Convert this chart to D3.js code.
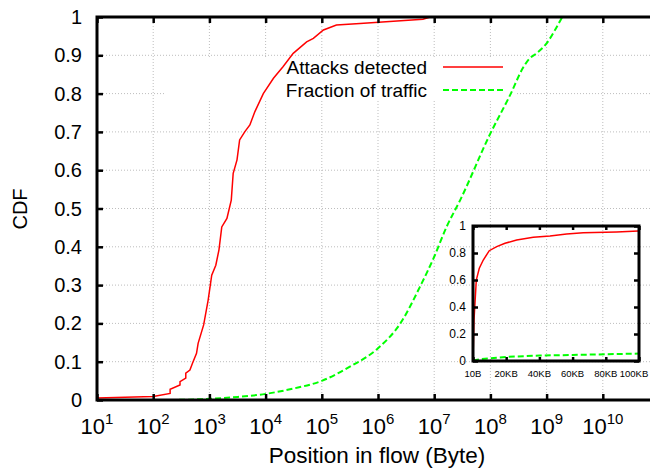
<!DOCTYPE html>
<html>
<head>
<meta charset="utf-8">
<script src="https://cdn.jsdelivr.net/npm/d3@7/dist/d3.min.js"></script>
<style>
  html, body { margin: 0; padding: 0; background: #fff; }
  svg { display: block; font-family: "Liberation Sans", Arial, Helvetica, sans-serif; }
</style>
</head>
<body>
<svg id="chart" width="650" height="468"></svg>
<script>
// ---------- data ----------
// Main plot: position in flow (bytes) vs CDF
const attackPos = [10, 100, 200, 200, 300, 300, 380, 380, 450, 500, 590, 630, 790, 950, 1100, 1300, 1480, 1660, 2050, 2450, 2650, 3100, 3450, 4250, 5250, 6450, 9100, 13800, 20400, 31000, 53700, 70800, 107000, 182000, 479000, 6.3e6, 8.5e6];
const attackCdf = [0.005, 0.009, 0.017, 0.028, 0.039, 0.048, 0.057, 0.070, 0.078, 0.096, 0.122, 0.148, 0.196, 0.261, 0.326, 0.352, 0.392, 0.452, 0.474, 0.522, 0.592, 0.627, 0.679, 0.700, 0.718, 0.753, 0.800, 0.840, 0.870, 0.905, 0.935, 0.944, 0.966, 0.979, 0.983, 0.994, 1.0];

const trafficPos = [200, 1000, 3200, 10000, 31600, 100000, 316000, 1e6, 2.5e6, 5.6e6, 1e7, 1.66e7, 2.9e7, 1e8, 2.24e8, 3.9e8, 5e8, 6.6e8, 1e9, 1.41e9, 1.9e9];
const trafficCdf = [0, 0.003, 0.008, 0.016, 0.030, 0.050, 0.087, 0.135, 0.200, 0.296, 0.374, 0.452, 0.522, 0.696, 0.796, 0.870, 0.892, 0.905, 0.931, 0.966, 1.0];

// Inset: linear 10B .. 100KB
const insetAttackPos = [10, 600, 2000, 3800, 6200, 9800, 14300, 19300, 26300, 36300, 46400, 56400, 66400, 86500, 99600];
const insetAttackCdf = [0.007, 0.30, 0.60, 0.687, 0.748, 0.817, 0.847, 0.872, 0.896, 0.916, 0.926, 0.941, 0.950, 0.956, 0.963];
const insetTrafficPos = [10, 5000, 20000, 40000, 60000, 80000, 100000];
const insetTrafficCdf = [0.003, 0.015, 0.030, 0.040, 0.045, 0.050, 0.055];

const xTickExps = [1, 2, 3, 4, 5, 6, 7, 8, 9, 10];
const yTicks = [0, 0.1, 0.2, 0.3, 0.4, 0.5, 0.6, 0.7, 0.8, 0.9, 1];
const insetXTicks = [10, 20000, 40000, 60000, 80000, 100000];
const insetXLabels = ["10B", "20KB", "40KB", "60KB", "80KB", "100KB"];
const insetYTicks = [0, 0.2, 0.4, 0.6, 0.8, 1];
const seriesNames = ["Attacks detected", "Fraction of traffic"];

// ---------- layout ----------
const svg = d3.select("#chart");
const M = { left: 97, right: 659, top: 17, bottom: 400 };
const x = d3.scaleLog().domain([10, 1e11]).range([M.left, M.right]);
const y = d3.scaleLinear().domain([0, 1]).range([M.bottom, M.top]);

const RED = "#ff0000", GREEN = "#00ff00";
const DASH = "6,3";
const gridStyle = g => g.attr("stroke", "#bdbdbd").attr("stroke-width", 1).attr("stroke-dasharray", "1,2");

// grid
const grid = svg.append("g");
grid.selectAll("line.v").data(xTickExps.slice(1).map(e => Math.pow(10, e))).join("line")
  .attr("x1", d => x(d)).attr("x2", d => x(d)).attr("y1", M.top).attr("y2", M.bottom).call(gridStyle);
grid.selectAll("line.h").data(yTicks.slice(1, -1)).join("line")
  .attr("x1", M.left).attr("x2", M.right).attr("y1", d => y(d)).attr("y2", d => y(d)).call(gridStyle);

// opaque legend box
svg.append("rect").attr("x", 165).attr("y", 57).attr("width", 352).attr("height", 44).attr("fill", "#fff");

// curves
const lineMain = d3.line().x(d => x(d[0])).y(d => y(d[1]));
const lineMainSmooth = d3.line().x(d => x(d[0])).y(d => y(d[1])).curve(d3.curveMonotoneX);
svg.append("path").datum(trafficPos.map((p, i) => [p, trafficCdf[i]]))
  .attr("d", lineMainSmooth).attr("fill", "none").attr("stroke", GREEN).attr("stroke-width", 2).attr("stroke-dasharray", DASH);
svg.append("path").datum(attackPos.map((p, i) => [p, attackCdf[i]]))
  .attr("d", lineMain).attr("fill", "none").attr("stroke", RED).attr("stroke-width", 1.5);

// legend
const legend = svg.append("g");
const legY = [67, 90];
seriesNames.forEach((n, i) => {
  legend.append("text").attr("x", 427).attr("y", legY[i]).attr("dy", "0.35em")
    .attr("text-anchor", "end").attr("font-size", 19).attr("fill", "#000").text(n);
  legend.append("line").attr("x1", 443).attr("x2", 503).attr("y1", legY[i]).attr("y2", legY[i])
    .attr("stroke", i === 0 ? RED : GREEN).attr("stroke-width", i === 0 ? 1.5 : 2)
    .attr("stroke-dasharray", i === 0 ? null : DASH);
});

// axes ticks (inward, mirrored)
const decades = xTickExps.map(e => Math.pow(10, e));
const tickStyle = g => { g.select(".domain").remove(); g.selectAll(".tick line").attr("stroke", "#000").attr("stroke-width", 2.5); g.selectAll(".tick text").remove(); };
svg.append("g").attr("transform", `translate(0,${M.bottom})`)
  .call(d3.axisBottom(x).tickValues(decades).tickSize(-6).tickFormat(() => "")).call(tickStyle);
svg.append("g").attr("transform", `translate(0,${M.top})`)
  .call(d3.axisTop(x).tickValues(decades).tickSize(-6).tickFormat(() => "")).call(tickStyle);
svg.append("g").attr("transform", `translate(${M.left},0)`)
  .call(d3.axisLeft(y).tickValues(yTicks).tickSize(-6).tickFormat(() => "")).call(tickStyle);

// frame
svg.append("rect").attr("x", M.left).attr("y", M.top).attr("width", M.right - M.left).attr("height", M.bottom - M.top)
  .attr("fill", "none").attr("stroke", "#000").attr("stroke-width", 3);

// y labels
svg.append("g").selectAll("text").data(yTicks).join("text")
  .attr("x", 82).attr("y", d => y(d)).attr("dy", "0.35em").attr("text-anchor", "end")
  .attr("font-size", 20).text(d => d3.format("~g")(d));

// x labels 10^n
const xl = svg.append("g").selectAll("text").data(xTickExps).join("text")
  .attr("x", d => x(Math.pow(10, d))).attr("y", 434).attr("text-anchor", "middle").attr("font-size", 22);
xl.append("tspan").text("10");
xl.append("tspan").attr("dy", -10).attr("font-size", 15).text(d => d);

// axis titles
svg.append("text").attr("x", 377).attr("y", 463).attr("text-anchor", "middle").attr("font-size", 22.5).text("Position in flow (Byte)");
svg.append("text").attr("transform", "translate(27,209) rotate(-90)").attr("text-anchor", "middle").attr("font-size", 20).text("CDF");

// ---------- inset ----------
const I = { left: 473, right: 639, top: 226, bottom: 361 };
const xi = d3.scaleLinear().domain([10, 100000]).range([I.left, I.right]);
const yi = d3.scaleLinear().domain([0, 1]).range([I.bottom, I.top]);
const ins = svg.append("g");
const lineI = d3.line().x(d => xi(d[0])).y(d => yi(d[1]));
ins.append("path").datum(insetTrafficPos.map((p, i) => [p, insetTrafficCdf[i]]))
  .attr("d", lineI).attr("fill", "none").attr("stroke", GREEN).attr("stroke-width", 2).attr("stroke-dasharray", DASH);
ins.append("path").datum(insetAttackPos.map((p, i) => [p, insetAttackCdf[i]]))
  .attr("d", lineI).attr("fill", "none").attr("stroke", RED).attr("stroke-width", 1.5);

ins.append("g").attr("transform", `translate(0,${I.bottom})`)
  .call(d3.axisBottom(xi).tickValues(insetXTicks).tickSize(-4).tickFormat(() => "")).call(tickStyle);
ins.append("g").attr("transform", `translate(0,${I.top})`)
  .call(d3.axisTop(xi).tickValues(insetXTicks).tickSize(-4).tickFormat(() => "")).call(tickStyle);
ins.append("g").attr("transform", `translate(${I.left},0)`)
  .call(d3.axisLeft(yi).tickValues(insetYTicks).tickSize(-5).tickFormat(() => "")).call(tickStyle);
ins.append("g").attr("transform", `translate(${I.right},0)`)
  .call(d3.axisRight(yi).tickValues(insetYTicks).tickSize(-5).tickFormat(() => "")).call(tickStyle);
ins.append("rect").attr("x", I.left).attr("y", I.top).attr("width", I.right - I.left).attr("height", I.bottom - I.top)
  .attr("fill", "none").attr("stroke", "#000").attr("stroke-width", 3);

ins.append("g").selectAll("text").data(insetYTicks).join("text")
  .attr("x", 466).attr("y", d => yi(d)).attr("dy", "0.35em").attr("text-anchor", "end")
  .attr("font-size", 12).text(d => d3.format("~g")(d));
ins.append("g").selectAll("text").data(insetXTicks).join("text")
  .attr("x", d => Math.min(xi(d), 634)).attr("y", 377).attr("text-anchor", "middle")
  .attr("font-size", 9.5).text((d, i) => insetXLabels[i]);
</script>
</body>
</html>
